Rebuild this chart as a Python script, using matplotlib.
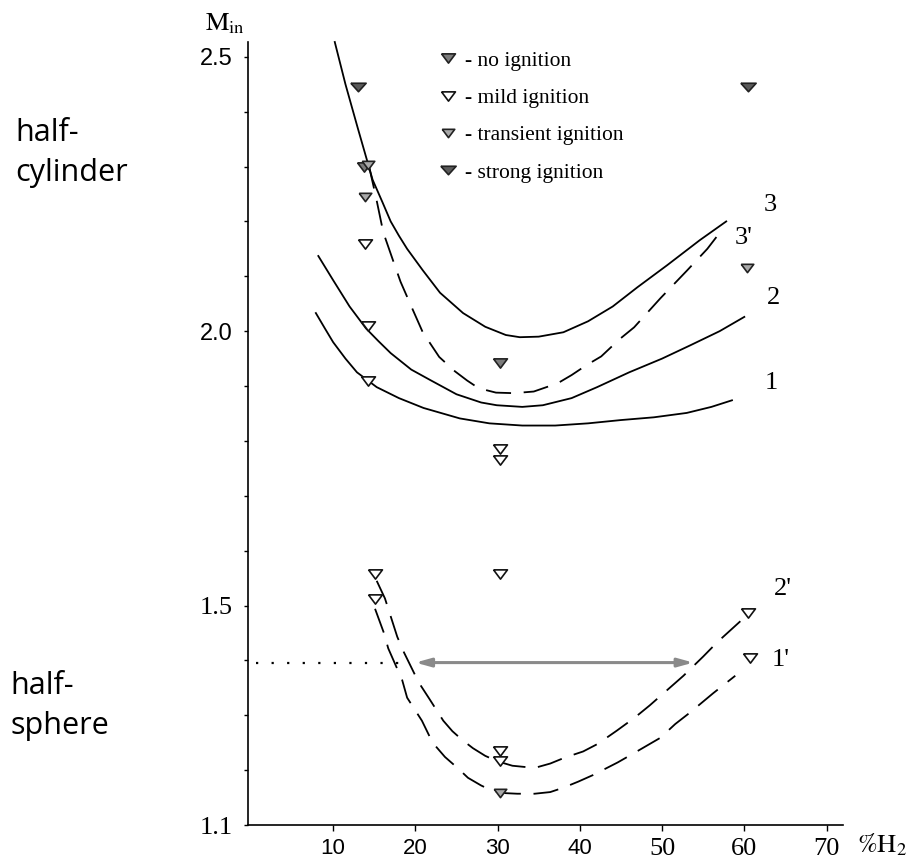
import matplotlib
matplotlib.use("Agg")
import matplotlib.pyplot as plt
import numpy as np
from matplotlib.lines import Line2D

plt.rcParams['mathtext.fontset'] = 'stix'

# ignition boundaries, half-cylinder (solid 1, 2, 3 and dashed 3')
c1_x = [7.9, 9.0, 10.0, 11.5, 12.9, 15.3, 18.0, 21.0, 25.4, 29.0, 33.0, 37.0, 41.0, 45.0, 49.0, 53.0, 56.0, 58.5]
c1_y = [2.033, 2.005, 1.98, 1.95, 1.925, 1.898, 1.878, 1.86, 1.841, 1.832, 1.828, 1.828, 1.832, 1.838, 1.843, 1.851, 1.862, 1.874]
c2_x = [8.2, 10.0, 12.0, 14.0, 15.5, 17.0, 19.5, 21.8, 25.0, 28.0, 29.9, 33.0, 35.5, 39.0, 42.1, 46.0, 50.0, 53.4, 57.0, 60.0]
c2_y = [2.137, 2.093, 2.045, 2.005, 1.982, 1.96, 1.93, 1.911, 1.885, 1.87, 1.865, 1.862, 1.865, 1.878, 1.898, 1.925, 1.95, 1.974, 2.0, 2.026]
c3_x = [10.2, 11.5, 13.0, 14.8, 16.0, 17.0, 18.0, 19.0, 20.9, 23.0, 25.8, 28.5, 31.0, 32.7, 35.0, 38.0, 41.0, 44.0, 47.0, 50.6, 54.6, 57.8]
c3_y = [2.527, 2.45, 2.37, 2.276, 2.235, 2.2, 2.174, 2.15, 2.111, 2.07, 2.033, 2.008, 1.993, 1.989, 1.99, 1.998, 2.018, 2.045, 2.08, 2.12, 2.166, 2.2]
c3d_x = [14.3, 15.2, 16.1, 17.4, 18.2, 19.6, 20.9, 22.9, 24.8, 26.3, 27.7, 29.8, 32.0, 34.4, 37.3, 39.0, 40.8, 42.6, 44.8, 46.6, 49.8, 53.0, 55.5, 57.3]
c3d_y = [2.305, 2.245, 2.18, 2.124, 2.09, 2.042, 1.998, 1.953, 1.927, 1.91, 1.896, 1.888, 1.887, 1.89, 1.905, 1.92, 1.938, 1.954, 1.985, 2.007, 2.06, 2.11, 2.15, 2.185]

# half-sphere boundaries (dashed 1' and 2')
s1_x = [15.1, 16.2, 16.7, 18.4, 19.0, 20.8, 22.1, 23.6, 25.2, 26.4, 28.0, 29.4, 31.0, 32.4, 34.5, 36.4, 38.0, 39.8, 41.6, 44.6, 46.7, 49.8, 51.6, 53.4, 56.2, 58.9]
s1_y = [1.494, 1.449, 1.422, 1.364, 1.332, 1.29, 1.25, 1.224, 1.203, 1.186, 1.172, 1.162, 1.158, 1.157, 1.157, 1.16, 1.168, 1.179, 1.191, 1.214, 1.232, 1.259, 1.284, 1.305, 1.34, 1.372]
s2_x = [15.3, 16.3, 17.8, 18.6, 20.4, 21.7, 23.4, 24.5, 25.7, 27.0, 28.5, 30.0, 31.8, 34.5, 36.4, 38.2, 40.4, 42.2, 44.5, 46.7, 48.5, 52.6, 55.0, 56.7, 60.3]
s2_y = [1.545, 1.513, 1.443, 1.415, 1.36, 1.33, 1.29, 1.271, 1.255, 1.24, 1.226, 1.216, 1.208, 1.204, 1.212, 1.223, 1.234, 1.248, 1.272, 1.296, 1.318, 1.372, 1.407, 1.433, 1.482]

# experiments
no_x = [13.7, 30.3]
no_y = [2.300, 1.942]
mild_x = [13.9, 14.2, 14.2, 30.3, 30.3, 30.3, 15.1, 15.1, 30.3, 30.3, 60.5, 60.7]
mild_y = [2.159, 2.009, 1.909, 1.785, 1.765, 1.558, 1.558, 1.511, 1.235, 1.217, 1.487, 1.405]
trans_x = [14.3, 13.9, 30.3, 60.3]
trans_y = [2.303, 2.245, 1.159, 2.115]
strong_x = [13.0, 60.5]
strong_y = [2.445, 2.445]

curve_labels = ["3", "3'", "2", "1", "2'", "1'"]
label_x = [63.1, 59.9, 63.5, 63.3, 64.7, 64.4]
label_y = [2.23, 2.17, 2.06, 1.905, 1.53, 1.40]

level_y = 1.396      # dotted level and arrow
arrow_x = [20.0, 53.8]

ytick_vals = [1.1, 1.2, 1.3, 1.4, 1.5, 1.6, 1.7, 1.8, 1.9, 2.0, 2.1, 2.2, 2.3, 2.4, 2.5]
ytick_text = ["1.1", "", "", "", "1.5", "", "", "", "", "2.0", "", "", "", "", "2.5"]
xtick_vals = [10, 20, 30, 40, 50, 60, 70]

W, H = 921, 863
fig = plt.figure(figsize=(W / 100, H / 100), dpi=100)
ax = fig.add_axes([248 / W, 1 - 825 / H, (843 - 248) / W, (825 - 42) / H])
ax.set_xlim(-0.35, 72.0)
ax.set_ylim(1.1, 2.527)

for s in ['top', 'right']:
    ax.spines[s].set_visible(False)
for s in ['left', 'bottom']:
    ax.spines[s].set_linewidth(1.2)

ax.set_xticks(xtick_vals)
ax.set_xticklabels([str(v) for v in xtick_vals])
ax.set_yticks(ytick_vals)
ax.set_yticklabels(ytick_text)
ax.tick_params(axis='x', length=4, width=1, pad=5, labelsize=16)
ax.tick_params(axis='y', length=3, width=1, pad=8, labelsize=17)
for lab in ax.get_xticklabels():
    if lab.get_text() in ("50", "60", "70"):
        lab.set_fontfamily("Liberation Serif")
        lab.set_fontsize(19)
    else:
        lab.set_fontfamily("Liberation Sans")
for lab in ax.get_yticklabels():
    if lab.get_text() in ("1.5", "1.1"):
        lab.set_fontfamily("Liberation Serif")
        lab.set_fontsize(19)
    else:
        lab.set_fontfamily("Liberation Sans")

lw = 1.3
dash = (0, (14, 7))
ax.plot(c1_x, c1_y, color='black', lw=lw, zorder=2)
ax.plot(c2_x, c2_y, color='black', lw=lw, zorder=2)
ax.plot(c3_x, c3_y, color='black', lw=lw, zorder=2, clip_on=False)
ax.plot(c3d_x, c3d_y, color='black', lw=lw, ls=dash, zorder=2)
ax.plot(s1_x, s1_y, color='black', lw=lw, ls=dash, zorder=2)
ax.plot(s2_x, s2_y, color='black', lw=lw, ls=dash, zorder=2)

ax.plot([0.6, 18.4], [level_y, level_y], color='black', lw=1.6, ls=(0, (1, 6)), zorder=2)
ax.annotate("", xy=(arrow_x[1], level_y), xytext=(arrow_x[0], level_y),
            arrowprops=dict(arrowstyle='<|-|>,head_length=0.9,head_width=0.25',
                            color='#8a8a8a', lw=2.2, shrinkA=0, shrinkB=0), zorder=3)

# flat downward triangle
tri = [(-0.75, 0.5), (0.75, 0.5), (0.0, -0.5), (-0.75, 0.5)]
wide_tri = [(-0.9, 0.5), (0.9, 0.5), (0.0, -0.5), (-0.9, 0.5)]
styles = {
    'no': dict(marker=tri, ms=10, mfc='#7c7c7c', mec='#222222', mew=1.2),
    'mild': dict(marker=tri, ms=10, mfc='white', mec='#111111', mew=1.2),
    'trans': dict(marker=tri, ms=9, mfc='#a9a9a9', mec='#222222', mew=1.2),
    'strong': dict(marker=wide_tri, ms=11, mfc='#5a5a5a', mec='#222222', mew=1.2),
}
ax.plot(no_x, no_y, ls='none', zorder=4, **styles['no'])
ax.plot(mild_x, mild_y, ls='none', zorder=4, **styles['mild'])
ax.plot(trans_x, trans_y, ls='none', zorder=4, **styles['trans'])
ax.plot(strong_x, strong_y, ls='none', zorder=4, **styles['strong'])

for t, x, y in zip(curve_labels, label_x, label_y):
    ax.text(x, y, t, fontsize=19, family='Liberation Serif', ha='center', va='center')

handles = [Line2D([], [], ls='none', **styles[k]) for k in ['no', 'mild', 'trans', 'strong']]
names = ["- no ignition", "- mild ignition", "- transient ignition", "- strong ignition"]
fig.legend(handles, names, loc='upper left', bbox_to_anchor=(426 / W, 1 - 40 / H),
           frameon=False, borderpad=0, handlelength=1.0, handletextpad=0.3,
           labelspacing=0.8, prop={'family': 'Liberation Serif', 'size': 15.5})

fig.text(205 / W, 1 - 30 / H, r'$\mathrm{M_{in}}$', fontsize=19, ha='left', va='baseline')
fig.text(857 / W, 1 - 852 / H, r'$\mathrm{\%H_2}$', fontsize=19, ha='left', va='baseline')

fig.text(15 / W, 1 - 181 / H, "half-\ncylinder", family='Open Sans', fontsize=22,
         ha='left', va='baseline', linespacing=1.45, multialignment='left')
fig.text(10 / W, 1 - 734 / H, "half-\nsphere", family='Open Sans', fontsize=22,
         ha='left', va='baseline', linespacing=1.45, multialignment='left')

fig.savefig("out.png", dpi=100)
